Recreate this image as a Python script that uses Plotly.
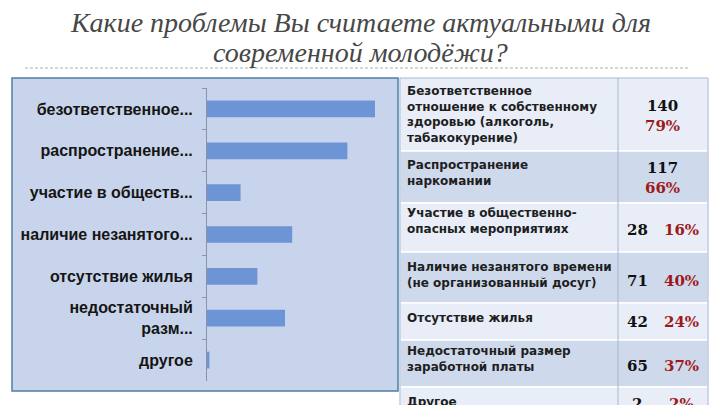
import plotly.graph_objects as go

# ---------------- data ----------------
title_lines = ["Какие проблемы Вы считаете актуальными для", "современной молодёжи?"]

categories = ["безответственное...", "распространение...", "участие в обществ...",
              "наличие незанятого...", "отсутствие жилья", "недостаточный<br>разм...", "другое"]
values = [140, 117, 28, 71, 42, 65, 2]

table_labels = [
    "Безответственное<br>отношение к собственному<br>здоровью (алкоголь,<br>табакокурение)",
    "Распространение<br>наркомании",
    "Участие в общественно-<br>опасных мероприятиях",
    "Наличие незанятого времени<br>(не организованный досуг)",
    "Отсутствие жилья",
    "Недостаточный размер<br>заработной платы",
    "Другое",
]
counts = [140, 117, 28, 71, 42, 65, 2]
percents = ["79%", "66%", "16%", "40%", "24%", "37%", "2%"]

# ---------------- layout helpers (screen pixels -> paper) ----------------
W, H = 720, 405
def px(x): return x / W
def py(y): return 1 - y / H

title_y = [22, 52]
row_tops = [78, 151, 203, 252, 303, 340, 387, 430]
row_fill = ["#e8edf7", "#cfd9ec", "#e8edf7", "#cfd9ec", "#e8edf7", "#cfd9ec", "#e8edf7"]
label_line1 = [91, 165, 213, 267, 318, 351, 402]
num_line1 = [106, 168, 230, 281, 322, 366, 404]
stacked = [True, True, False, False, False, False, False]

fig = go.Figure()
fig.add_trace(go.Bar(
    x=values, y=categories, orientation="h",
    marker=dict(color="#6d95d5", line=dict(width=0)),
    hoverinfo="x+y",
))

shapes = []
# chart panel
shapes.append(dict(type="rect", xref="paper", yref="paper", layer="below",
                   x0=px(12), x1=px(398), y0=py(391), y1=py(78),
                   fillcolor="#c8d4eb", line=dict(color="#4d7fa6", width=1.5)))
# dashed rule under title
shapes.append(dict(type="line", xref="paper", yref="paper",
                   x0=px(25), x1=px(688), y0=py(68), y1=py(68),
                   line=dict(color="#b0b0b0", width=1, dash="3px,2px")))
# table rows
for i in range(len(table_labels)):
    shapes.append(dict(type="rect", xref="paper", yref="paper", layer="below",
                       x0=px(400), x1=px(708), y0=py(row_tops[i + 1]), y1=py(row_tops[i]),
                       fillcolor=row_fill[i], line=dict(color="#ffffff", width=1.5)))
# column divider and outer border
shapes.append(dict(type="line", xref="paper", yref="paper",
                   x0=px(618), x1=px(618), y0=py(405), y1=py(78),
                   line=dict(color="#a8b6cf", width=1)))
shapes.append(dict(type="rect", xref="paper", yref="paper",
                   x0=px(400), x1=px(708), y0=py(430), y1=py(78),
                   line=dict(color="#a0b1cf", width=1)))

annotations = []
for t, ty in zip(title_lines, title_y):
    annotations.append(dict(
        text="<i>" + t + "</i>", xref="paper", yref="paper",
        x=px(360), y=py(ty), xanchor="center", yanchor="middle", showarrow=False,
        font=dict(family="Liberation Serif", size=28, color="#474747"),
    ))
for i, lab in enumerate(table_labels):
    annotations.append(dict(
        text=lab, xref="paper", yref="paper", x=px(405), y=py(label_line1[i] - 9),
        xanchor="left", yanchor="top", align="left", showarrow=False,
        font=dict(family="DejaVu Sans", size=12, color="#1e1e1e", weight=700),
    ))
    red = "<span style='color:#9e1a1a'>%s</span>" % percents[i]
    nfont = dict(family="DejaVu Serif", size=15, color="#111111", weight=700)
    if stacked[i]:
        annotations.append(dict(
            text="%d<br>%s" % (counts[i], red), xref="paper", yref="paper",
            x=px(662), y=py(num_line1[i] - 11.5), xanchor="center", yanchor="top",
            showarrow=False, font=nfont,
        ))
    else:
        annotations.append(dict(
            text="%d" % counts[i], xref="paper", yref="paper",
            x=px(637), y=py(num_line1[i]), xanchor="center", yanchor="middle",
            showarrow=False, font=nfont,
        ))
        annotations.append(dict(
            text=red, xref="paper", yref="paper",
            x=px(681), y=py(num_line1[i]), xanchor="center", yanchor="middle",
            showarrow=False, font=nfont,
        ))

fig.update_layout(
    width=W, height=H, margin=dict(l=0, r=0, t=0, b=0),
    paper_bgcolor="#ffffff", plot_bgcolor="rgba(0,0,0,0)",
    showlegend=False, bargap=0.6,
    shapes=shapes, annotations=annotations,
    xaxis=dict(domain=[px(207), px(387)], range=[0, 150], showgrid=False,
               zeroline=False, showticklabels=False, showline=False, fixedrange=True),
    yaxis=dict(domain=[py(381), py(88)], type="category", autorange="reversed",
               showline=True, linecolor="#8a94a6", linewidth=1,
               ticks="outside", tickson="boundaries", ticklen=4, tickcolor="#8a94a6",
               ticklabelstandoff=10, showgrid=False,
               tickfont=dict(family="Liberation Sans", size=16, color="#151515", weight=700)),
)

fig.write_html("out.html", config={"displayModeBar": False},
               post_script="document.body.style.margin='0';")
